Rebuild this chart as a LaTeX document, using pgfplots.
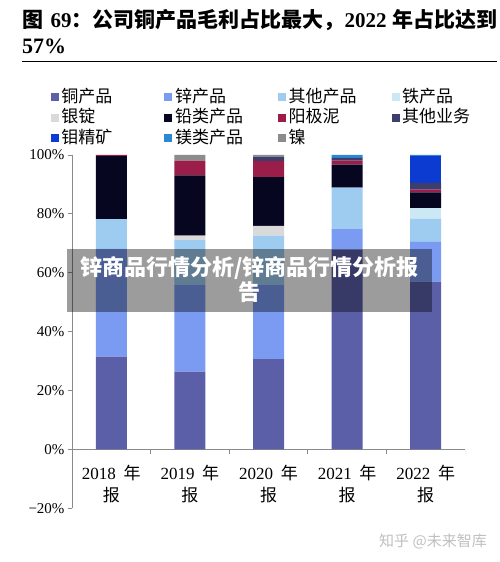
\documentclass[border=0pt]{standalone}
\usepackage{fontspec}
\setmainfont{Liberation Serif}
\newfontfamily\cjk{Noto Sans CJK SC}
\usepackage{pgfplots}
\usepackage{pgfplotstable}
\pgfplotsset{compat=1.18}

\definecolor{cCopper}{HTML}{5B5FA8}
\definecolor{cZinc}{HTML}{7B9BF3}
\definecolor{cOther}{HTML}{9ECBF0}
\definecolor{cIron}{HTML}{CDE8F5}
\definecolor{cSilver}{HTML}{D9D9D9}
\definecolor{cLead}{HTML}{060620}
\definecolor{cAnode}{HTML}{9B1E4A}
\definecolor{cBiz}{HTML}{3E3E6C}
\definecolor{cMoly}{HTML}{0B3BD0}
\definecolor{cMg}{HTML}{2C88D2}
\definecolor{cNi}{HTML}{8C8C8C}
\definecolor{axisgray}{HTML}{8A8A8A}

% gross-profit share by product line (%), one row per annual report
\pgfplotstableread{
x copper zinc other iron silver lead anode biz moly mg ni
0 31.5 36.6 10.1 0   0   21.4 0.4 0   0   0   0
1 26.4 29.4 15.3 0   1.5 20.5 5.0 0   0   0   1.9
2 30.7 25.1 16.8 0   3.3 16.6 5.4 1.4 0   0   0.7
3 67.9  6.9 14.1 0   0    7.8 1.4 0.9 0   1.0 0
4 57.0 13.5  7.8 3.7 0    5.3 0.9 2.3 9.1 0.4 0
}\gm

\newcommand\yr[1]{{#1}\hspace{0.45em}{\cjk 年}\\{\cjk 报}}

\begin{document}
\begin{tikzpicture}[x=1pt,y=1pt]
\useasboundingbox (0,0) rectangle (500,562);

% heading
\node[anchor=base west, inner sep=0pt, font=\fontsize{21}{21}\selectfont\bfseries] at (22,534)
  {{\cjk 图}\hspace{0.35em}69{\cjk ：公司铜产品毛利占比最大，}2022\hspace{0.3em}{\cjk 年占比达到}};
\node[anchor=base west, inner sep=0pt, font=\fontsize{22}{22}\selectfont\bfseries] at (22,508.7) {57\%};
\draw[line width=1.3pt] (22,500.3) -- (497,500.3);

\begin{axis}[
  at={(72pt,53.7pt)}, anchor=south west,
  scale only axis, width=393pt, height=353.3pt,
  xmin=-0.5, xmax=4.5, ymin=-20, ymax=100,
  ybar stacked, bar width=31pt,
  axis x line=middle, axis y line=left,
  axis line style={axisgray, line width=0.8pt, -},
  hide obscured x ticks=false, hide obscured y ticks=false,
  xtick={0,1,2,3,4},
  xticklabels={\yr{2018},\yr{2019},\yr{2020},\yr{2021},\yr{2022}},
  xticklabel style={align=center, font=\fontsize{17}{21.6}\selectfont, anchor=north, yshift=-8.5pt},
  x tick style={draw=none},
  ytick={-20,0,20,40,60,80,100},
  yticklabels={−20\%,0\%,20\%,40\%,60\%,80\%,100\%},
  yticklabel style={font=\fontsize{15}{15}\selectfont},
  y tick style={axisgray, line width=0.8pt},
  tick align=outside, major tick length=4pt,
  legend columns=4,
  legend cell align=left,
  legend image code/.code={\fill[#1,draw=none] (0pt,-4pt) rectangle (8pt,4pt);},
  legend style={at={(-0.062,1.193)}, anchor=north west, draw=none, fill=none,
    font=\cjk\fontsize{17}{17}\selectfont, row sep=4.7pt, column sep=2.6pt,
    /tikz/every even column/.append style={column sep=8pt},
    nodes={inner sep=0pt, text width=95pt, text height=13pt, text depth=3pt}},
]
\addplot[fill=cCopper, draw=none] table[x=x, y=copper] {\gm};
\addplot[fill=cZinc,   draw=none] table[x=x, y=zinc]   {\gm};
\addplot[fill=cOther,  draw=none] table[x=x, y=other]  {\gm};
\addplot[fill=cIron,   draw=none] table[x=x, y=iron]   {\gm};
\addplot[fill=cSilver, draw=none] table[x=x, y=silver] {\gm};
\addplot[fill=cLead,   draw=none] table[x=x, y=lead]   {\gm};
\addplot[fill=cAnode,  draw=none] table[x=x, y=anode]  {\gm};
\addplot[fill=cBiz,    draw=none] table[x=x, y=biz]    {\gm};
\addplot[fill=cMoly,   draw=none] table[x=x, y=moly]   {\gm};
\addplot[fill=cMg,     draw=none] table[x=x, y=mg]     {\gm};
\addplot[fill=cNi,     draw=none] table[x=x, y=ni]     {\gm};
\legend{铜产品,锌产品,其他产品,铁产品,银锭,铅类产品,阳极泥,其他业务,钼精矿,镁类产品,镍}
% separators between the report years
\pgfplotsinvokeforeach{0.5,1.5,2.5,3.5,4.5}{
  \draw[axisgray, line width=0.8pt] (axis cs:#1,0) -- ([yshift=-5pt]axis cs:#1,0);
}
\end{axis}

% overlay banner
\fill[black, fill opacity=0.39] (67,250.3) rectangle (432,313);
\node[align=center, text=white, inner sep=0pt, font=\cjk\bfseries\fontsize{22}{25.3}\selectfont] at (249.5,282.6)
  {锌商品行情分析/锌商品行情分析报\\告};

% source mark
\node[anchor=center, inner sep=0pt, text=black!25, font=\cjk\fontsize{15}{15}\selectfont] at (433,21) {知乎 @未来智库};
\end{tikzpicture}
\end{document}
